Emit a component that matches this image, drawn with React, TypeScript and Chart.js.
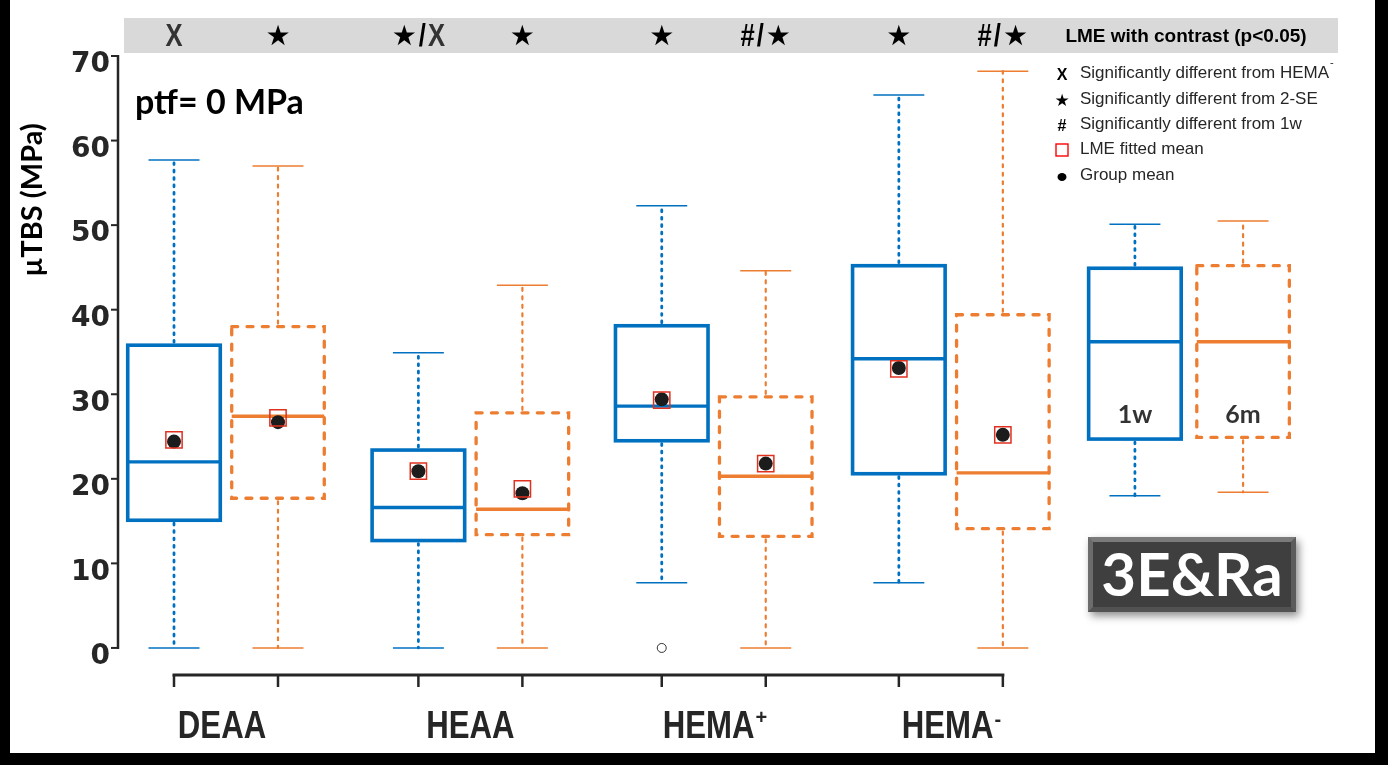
import React, { useEffect, useRef } from "react";
import { Chart, registerables } from "chart.js";

Chart.register(...registerables);

// ---------------- data ----------------
const groupNames = ["DEAA", "HEAA", "HEMA", "HEMA"];
const groupSuperscripts = ["", "", "+", "-"];
// box stats: [min, q1, median, q3, max]
const boxes1w = [
  [0, 15.1, 22.0, 35.8, 57.7],
  [0, 12.7, 16.6, 23.4, 34.9],
  [7.7, 24.5, 28.6, 38.1, 52.3],
  [7.7, 20.6, 34.2, 45.2, 65.4],
];
const boxes6m = [
  [0, 17.7, 27.4, 38.0, 57.0],
  [0, 13.4, 16.4, 27.8, 42.9],
  [0, 13.2, 20.3, 29.7, 44.6],
  [0, 14.1, 20.7, 39.4, 68.2],
];
const lmeMean1w = [24.6, 20.9, 29.3, 33.0];
const lmeMean6m = [27.2, 18.8, 21.8, 25.2];
const groupMean1w = [24.4, 20.9, 29.4, 33.1];
const groupMean6m = [26.7, 18.3, 21.8, 25.2];
const outliers1w = [[], [], [0], []];
const outliers6m = [[], [], [], []];
const sigMarks1w = ["X", "★/X", "★", "★"];
const sigMarks6m = ["★", "★", "#/★", "#/★"];
const yTicks = [0, 10, 20, 30, 40, 50, 60, 70];
const keyBox1w = [18.0, 24.7, 36.2, 44.9, 50.1];
const keyBox6m = [18.4, 24.9, 36.2, 45.2, 50.5];
const keyLabels = ["1w", "6m"];
const keyLabelValue = 27.5;
const legendSymbols = ["X", "★", "#", "square", "dot"];
const legendTexts = [
  "Significantly different from HEMA",
  "Significantly different from 2-SE",
  "Significantly different from 1w",
  "LME fitted mean",
  "Group mean",
];
const legendSuperscripts = ["-", "", "", "", ""];
const bandTitle = "LME with contrast (p<0.05)";
const panelLabel = "ptf= 0 MPa";
const badgeText = "3E&Ra";
const yTitle = "µTBS (MPa)";

// ---------------- layout / style ----------------
const W = 1388;
const H = 765;
const GROUP_X = [0, 2.35, 4.69, 6.97];
const PAIR_OFFSET = 1.0;
const X_MIN = -0.5385;
const X_MAX = 11.212;
const KEY_X = [9.24, 10.28];
const BOX_W = 0.89;
const CAP_W = 0.49;
const BLUE = "#0070c0";
const ORANGE = "#ed7d31";
const INK = "#262626";
const LME_RED = "#e0301e";
const HUMANIST = '"Lato", "Open Sans", "Liberation Sans", sans-serif';

const pos1w = (g: number) => GROUP_X[g];
const pos6m = (g: number) => GROUP_X[g] + PAIR_OFFSET;

function line(ctx: CanvasRenderingContext2D, x1: number, y1: number, x2: number, y2: number) {
  ctx.beginPath();
  ctx.moveTo(x1, y1);
  ctx.lineTo(x2, y2);
  ctx.stroke();
}

function drawBox(ctx: CanvasRenderingContext2D, chart: any, u: number, st: number[], color: string, dashed: boolean) {
  const xs = chart.scales.x;
  const ys = chart.scales.y;
  const cx = xs.getPixelForValue(u);
  const hw = xs.getPixelForValue(u + BOX_W / 2) - cx;
  const hc = xs.getPixelForValue(u + CAP_W / 2) - cx;
  const [mn, q1, md, q3, mx] = st.map((v) => ys.getPixelForValue(v));
  ctx.save();
  ctx.strokeStyle = color;
  // caps
  ctx.lineWidth = 1.5;
  ctx.setLineDash([]);
  ctx.lineCap = "butt";
  line(ctx, cx - hc, mn, cx + hc, mn);
  line(ctx, cx - hc, mx, cx + hc, mx);
  // whiskers
  ctx.lineCap = "round";
  if (dashed) {
    ctx.lineWidth = 2.2;
    ctx.setLineDash([3, 5.5]);
  } else {
    ctx.lineWidth = 2.8;
    ctx.setLineDash([1.8, 5.6]);
  }
  line(ctx, cx, q3 - 3, cx, mx);
  line(ctx, cx, q1 + 3, cx, mn);
  // box
  if (dashed) {
    ctx.lineWidth = 3.3;
    ctx.setLineDash([6, 9.3]);
    ctx.lineCap = "round";
  } else {
    ctx.lineWidth = 3.6;
    ctx.setLineDash([]);
    ctx.lineCap = "butt";
  }
  ctx.strokeRect(cx - hw, q3, 2 * hw, q1 - q3);
  // median
  ctx.setLineDash([]);
  ctx.lineWidth = 3.4;
  ctx.lineCap = "butt";
  line(ctx, cx - hw, md, cx + hw, md);
  ctx.restore();
}

function drawMixed(ctx: CanvasRenderingContext2D, text: string, cx: number, cy: number, letterFont: string, starFont: string, sx: number) {
  const parts = Array.from(text).map((ch) => {
    const star = ch === "★";
    ctx.font = star ? starFont : letterFont;
    const w = ctx.measureText(ch).width * (star ? 1 : sx);
    return { ch, star, w };
  });
  const gap = 2;
  const total = parts.reduce((a, p) => a + p.w, 0) + gap * (parts.length - 1);
  let x = cx - total / 2;
  for (const p of parts) {
    ctx.save();
    ctx.font = p.star ? starFont : letterFont;
    ctx.fillStyle = p.ch === "X" ? "#333333" : "#000000";
    ctx.textBaseline = "middle";
    ctx.textAlign = "left";
    ctx.translate(x, cy);
    if (!p.star) ctx.scale(sx, 1);
    ctx.fillText(p.ch, 0, p.star ? 1 : 0);
    ctx.restore();
    x += p.w + gap;
  }
}

const decorPlugin = {
  id: "decor",
  beforeDraw(chart: any) {
    const ctx: CanvasRenderingContext2D = chart.ctx;
    ctx.save();
    ctx.fillStyle = "#000";
    ctx.fillRect(0, 0, W, H);
    ctx.fillStyle = "#fff";
    ctx.fillRect(10, 0, 1365, 753);
    ctx.restore();
  },
  beforeDatasetsDraw(chart: any) {
    const ctx: CanvasRenderingContext2D = chart.ctx;
    const xs = chart.scales.x;
    const ys = chart.scales.y;
    const area = chart.chartArea;

    // top significance band
    ctx.save();
    ctx.fillStyle = "#d9d9d9";
    ctx.fillRect(area.left + 6, 18, 1338 - (area.left + 6), 35);
    ctx.restore();
    const letterFont = 'bold 32px "Liberation Sans", Arial, sans-serif';
    const starFont = '28px "DejaVu Sans", sans-serif';
    for (let g = 0; g < groupNames.length; g++) {
      drawMixed(ctx, sigMarks1w[g], xs.getPixelForValue(pos1w(g)), 37, letterFont, starFont, 0.8);
      drawMixed(ctx, sigMarks6m[g], xs.getPixelForValue(pos6m(g)), 37, letterFont, starFont, 0.8);
    }
    ctx.save();
    ctx.font = 'bold 19px "Liberation Sans", Arial, sans-serif';
    ctx.fillStyle = "#000";
    ctx.textAlign = "center";
    ctx.textBaseline = "middle";
    ctx.fillText(bandTitle, 1186, 37);
    ctx.restore();

    // y axis line + ticks
    ctx.save();
    ctx.strokeStyle = INK;
    ctx.lineWidth = 2.5;
    const ax = area.left;
    const yTop = ys.getPixelForValue(yTicks[yTicks.length - 1]);
    const yBot = ys.getPixelForValue(yTicks[0]);
    line(ctx, ax, yTop - 1, ax, yBot + 1);
    ctx.lineWidth = 2;
    for (const t of yTicks) {
      const py = ys.getPixelForValue(t);
      line(ctx, ax - 7, py, ax, py);
    }
    // x axis line + ticks
    const xb = area.bottom;
    const xFirst = xs.getPixelForValue(pos1w(0));
    const xLast = xs.getPixelForValue(pos6m(groupNames.length - 1));
    ctx.lineWidth = 3;
    line(ctx, xFirst - 1.5, xb, xLast + 1.5, xb);
    ctx.lineWidth = 2.5;
    for (let g = 0; g < groupNames.length; g++) {
      for (const u of [pos1w(g), pos6m(g)]) {
        const px = xs.getPixelForValue(u);
        line(ctx, px, xb, px, xb + 12);
      }
    }
    ctx.restore();

    // x category labels (condensed bold)
    for (let g = 0; g < groupNames.length; g++) {
      const c = (xs.getPixelForValue(pos1w(g)) + xs.getPixelForValue(pos6m(g))) / 2 - (g === 0 ? 4 : 0);
      const sx = 0.82;
      ctx.save();
      ctx.fillStyle = INK;
      ctx.textBaseline = "alphabetic";
      ctx.textAlign = "left";
      ctx.font = 'bold 38px "Liberation Sans", Arial, sans-serif';
      const mw = ctx.measureText(groupNames[g]).width * sx;
      ctx.font = 'bold 20px "Liberation Sans", Arial, sans-serif';
      const sup = groupSuperscripts[g];
      const sw = sup ? ctx.measureText(sup).width * 0.8 + 1 : 0;
      const total = mw + sw;
      const x0 = c - total / 2;
      ctx.translate(x0, 738);
      ctx.save();
      ctx.scale(sx, 1);
      ctx.font = 'bold 38px "Liberation Sans", Arial, sans-serif';
      ctx.fillText(groupNames[g], 0, 0);
      ctx.restore();
      if (sup) {
        ctx.font = 'bold 20px "Liberation Sans", Arial, sans-serif';
        ctx.fillText(sup, mw + 1, sup === "+" ? -14 : -12);
      }
      ctx.restore();
    }

    // boxes
    for (let g = 0; g < groupNames.length; g++) {
      drawBox(ctx, chart, pos1w(g), boxes1w[g], BLUE, false);
      drawBox(ctx, chart, pos6m(g), boxes6m[g], ORANGE, true);
    }
    // key boxes
    drawBox(ctx, chart, KEY_X[0], keyBox1w, BLUE, false);
    drawBox(ctx, chart, KEY_X[1], keyBox6m, ORANGE, true);
    ctx.save();
    ctx.font = "bold 25px " + HUMANIST;
    ctx.fillStyle = "#333";
    ctx.textAlign = "center";
    ctx.textBaseline = "middle";
    ctx.fillText(keyLabels[0], xs.getPixelForValue(KEY_X[0]), ys.getPixelForValue(keyLabelValue));
    ctx.fillText(keyLabels[1], xs.getPixelForValue(KEY_X[1]), ys.getPixelForValue(keyLabelValue));
    ctx.restore();

    // panel label
    ctx.save();
    ctx.font = "bold 34px " + HUMANIST;
    ctx.fillStyle = "#000";
    ctx.textAlign = "left";
    ctx.textBaseline = "alphabetic";
    ctx.fillText(panelLabel, 135, 114);
    ctx.restore();

    // y title
    ctx.save();
    ctx.translate(33, 200);
    ctx.rotate(-Math.PI / 2);
    ctx.font = "bold 29px " + HUMANIST;
    ctx.fillStyle = "#000";
    ctx.textAlign = "center";
    ctx.textBaseline = "middle";
    ctx.fillText(yTitle, 0, 0);
    ctx.restore();

    // legend
    const rowY = [73, 99, 124, 149, 175];
    for (let i = 0; i < legendTexts.length; i++) {
      const y = rowY[i];
      const sxp = 1062;
      ctx.save();
      const s = legendSymbols[i];
      if (s === "square") {
        ctx.strokeStyle = "#ff0000";
        ctx.lineWidth = 1.4;
        ctx.strokeRect(sxp - 6, y - 5, 12, 12);
      } else if (s === "dot") {
        ctx.fillStyle = "#000";
        ctx.beginPath();
        ctx.ellipse(sxp, y + 2, 4.5, 4, 0, 0, Math.PI * 2);
        ctx.fill();
      } else if (s === "★") {
        ctx.font = '17px "DejaVu Sans", sans-serif';
        ctx.fillStyle = "#000";
        ctx.textAlign = "center";
        ctx.textBaseline = "middle";
        ctx.fillText(s, sxp, y + 3);
      } else {
        ctx.font = 'bold 16px "Liberation Sans", Arial, sans-serif';
        ctx.fillStyle = "#000";
        ctx.textAlign = "center";
        ctx.textBaseline = "middle";
        ctx.fillText(s, sxp, y + 3);
      }
      ctx.font = '17px "Liberation Sans", Arial, sans-serif';
      ctx.fillStyle = INK;
      ctx.textAlign = "left";
      ctx.textBaseline = "middle";
      ctx.fillText(legendTexts[i], 1080, y);
      if (legendSuperscripts[i]) {
        const w = ctx.measureText(legendTexts[i]).width;
        ctx.font = '11px "Liberation Sans", Arial, sans-serif';
        ctx.fillText(legendSuperscripts[i], 1080 + w + 1, y - 10);
      }
      ctx.restore();
    }

    // badge
    const bx = 1088, by = 537, bw = 208, bh = 75, bev = 5;
    ctx.save();
    ctx.shadowColor = "rgba(0,0,0,0.45)";
    ctx.shadowBlur = 8;
    ctx.shadowOffsetX = 3;
    ctx.shadowOffsetY = 4;
    ctx.fillStyle = "#666666";
    ctx.fillRect(bx, by, bw, bh);
    ctx.restore();
    ctx.save();
    const quad = (pts: number[][], col: string) => {
      ctx.fillStyle = col;
      ctx.beginPath();
      ctx.moveTo(pts[0][0], pts[0][1]);
      for (let k = 1; k < pts.length; k++) ctx.lineTo(pts[k][0], pts[k][1]);
      ctx.closePath();
      ctx.fill();
    };
    quad([[bx, by], [bx + bw, by], [bx + bw - bev, by + bev], [bx + bev, by + bev]], "#7a7a7a");
    quad([[bx, by], [bx + bev, by + bev], [bx + bev, by + bh - bev], [bx, by + bh]], "#6c6c6c");
    quad([[bx + bw, by], [bx + bw, by + bh], [bx + bw - bev, by + bh - bev], [bx + bw - bev, by + bev]], "#5c5c5c");
    quad([[bx, by + bh], [bx + bev, by + bh - bev], [bx + bw - bev, by + bh - bev], [bx + bw, by + bh]], "#525252");
    ctx.fillStyle = "#3f3f3f";
    ctx.fillRect(bx + bev, by + bev, bw - 2 * bev, bh - 2 * bev);
    ctx.font = "bold 60px " + HUMANIST;
    ctx.fillStyle = "#ffffff";
    ctx.textAlign = "center";
    ctx.textBaseline = "middle";
    ctx.fillText(badgeText, bx + bw / 2, by + bh / 2 + 2);
    ctx.restore();
  },
};

export default function App() {
  const ref = useRef<HTMLCanvasElement | null>(null);
  useEffect(() => {
    document.body.style.margin = "0";
    const canvas = ref.current;
    if (!canvas) return;
    const lmePts: { x: number; y: number }[] = [];
    const meanPts: { x: number; y: number }[] = [];
    const outPts: { x: number; y: number }[] = [];
    for (let g = 0; g < groupNames.length; g++) {
      lmePts.push({ x: pos1w(g), y: lmeMean1w[g] }, { x: pos6m(g), y: lmeMean6m[g] });
      meanPts.push({ x: pos1w(g), y: groupMean1w[g] }, { x: pos6m(g), y: groupMean6m[g] });
      outliers1w[g].forEach((v) => outPts.push({ x: pos1w(g), y: v }));
      outliers6m[g].forEach((v) => outPts.push({ x: pos6m(g), y: v }));
    }
    const chart = new Chart(canvas, {
      type: "scatter",
      data: {
        datasets: [
          {
            data: lmePts,
            pointStyle: "rect",
            pointRadius: 11.5,
            borderColor: LME_RED,
            borderWidth: 1.5,
            backgroundColor: "rgba(0,0,0,0)",
          },
          {
            data: meanPts,
            pointStyle: "circle",
            pointRadius: 7,
            borderWidth: 0,
            backgroundColor: "#1c1c1c",
            borderColor: "#1c1c1c",
          },
          {
            data: outPts,
            pointStyle: "circle",
            pointRadius: 4.5,
            borderWidth: 1,
            backgroundColor: "#ffffff",
            borderColor: "#333333",
          },
        ],
      },
      options: {
        animation: false,
        responsive: false,
        layout: { padding: { left: 0, right: W - 1340, top: 56, bottom: H - 675 } },
        plugins: { legend: { display: false }, tooltip: { enabled: false } },
        scales: {
          x: { type: "linear", min: X_MIN, max: X_MAX, display: false },
          y: {
            type: "linear",
            min: -3.2,
            max: 70,
            afterFit: (s: any) => {
              s.width = 118;
            },
            afterBuildTicks: (s: any) => {
              s.ticks = yTicks.map((v) => ({ value: v }));
            },
            grid: { display: false, drawTicks: false },
            border: { display: false },
            ticks: {
              padding: 8,
              labelOffset: 9,
              color: INK,
              font: { family: '"DejaVu Sans", sans-serif', weight: "bold", size: 28 },
            },
          },
        },
      },
      plugins: [decorPlugin],
    } as any);
    return () => chart.destroy();
  }, []);
  return (
    <div style={{ width: W, height: H, position: "relative" }}>
      <canvas ref={ref} width={W} height={H} style={{ display: "block", width: W, height: H }} />
    </div>
  );
}
